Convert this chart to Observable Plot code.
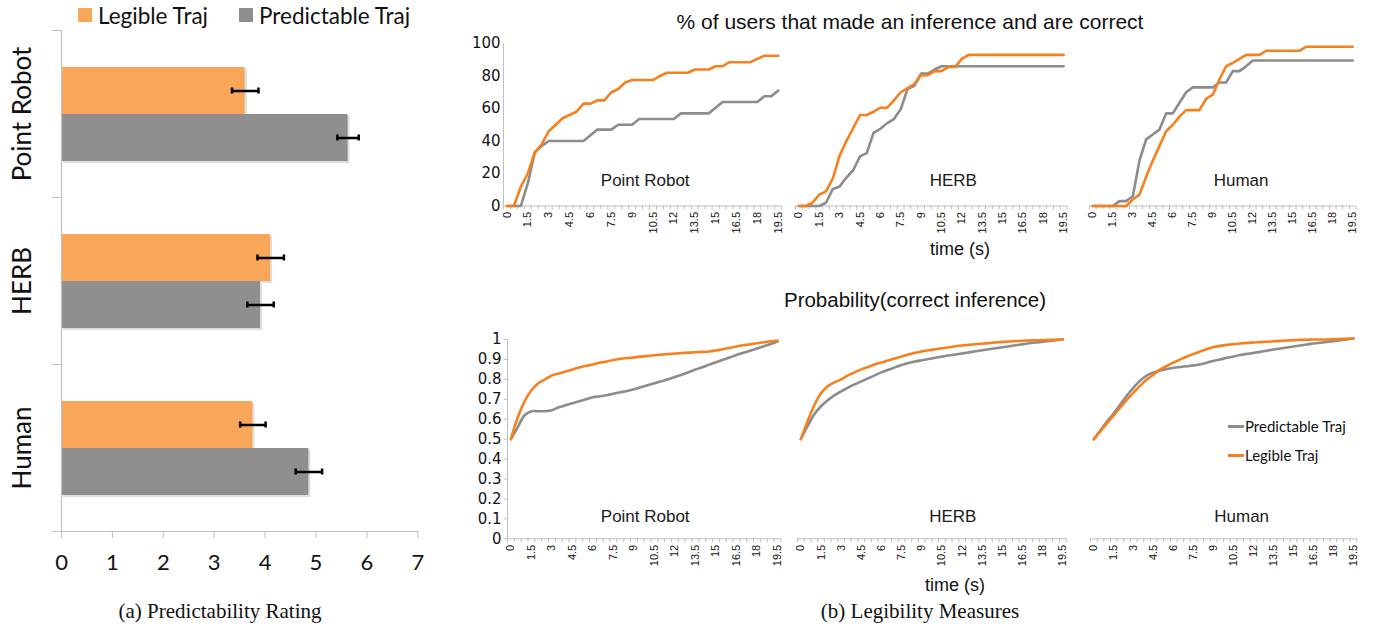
<!DOCTYPE html>
<html><head><meta charset="utf-8">
<script src="https://cdn.jsdelivr.net/npm/d3@7"></script>
<script src="https://cdn.jsdelivr.net/npm/@observablehq/plot@0.6"></script>
<style>
body{margin:0;background:#fff;}
#root{position:relative;width:1375px;height:627px;overflow:hidden;background:#fff;}
.abs{position:absolute;white-space:nowrap;line-height:1;}
</style></head><body><div id="root"></div>
<script>
// ---------- data ----------
const agents = ["Point Robot", "HERB", "Human"];
const trajTypes = ["Legible Traj", "Predictable Traj"];
const ratingLegible = [3.61, 4.11, 3.76];
const ratingPredictable = [5.63, 3.91, 4.86];
const errLegible = [0.26, 0.26, 0.25];
const errPredictable = [0.21, 0.26, 0.26];
const ratingTicks = [0, 1, 2, 3, 4, 5, 6, 7];

const times = [0,0.5,1,1.5,2,2.5,3,3.5,4,4.5,5,5.5,6,6.5,7,7.5,8,8.5,9,9.5,10,10.5,11,11.5,12,12.5,13,13.5,14,14.5,15,15.5,16,16.5,17,17.5,18,18.5,19,19.5];
const timeLabels = [0,1.5,3,4.5,6,7.5,9,10.5,12,13.5,15,16.5,18,19.5];
const pctTicks = [0,20,40,60,80,100];
const probTicks = [0,0.1,0.2,0.3,0.4,0.5,0.6,0.7,0.8,0.9,1];

// % of users that made an inference and are correct
const pctPointRobotLegible = [0,0,12,20,33,38,46,50,54,56,58,63,63,65,65,70,72,76,77.5,77.5,77.5,77.5,80,82,82,82,82,84,84,84,86,86,88.5,88.5,88.5,88.5,90.5,92.5,92.5,92.5];
const pctPointRobotPredictable = [0,0,0,14,33,37,40,40,40,40,40,40,43.5,47,47,47,50,50,50,53.5,53.5,53.5,53.5,53.5,53.5,57,57,57,57,57,60.5,64,64,64,64,64,64,67.5,67.5,71];
const pctHerbLegible = [0,0,2,7,9,17,31,40,48,56,56,58,60.5,60.5,65,70,72.5,75,80.5,80.5,83,83,85.5,85.5,90.5,93,93,93,93,93,93,93,93,93,93,93,93,93,93,93];
const pctHerbPredictable = [0,0,0,0,2,10.5,12,17.5,22,30.5,32.5,45,47.5,51,53.5,59.5,72,74,81.5,81.5,84,86,86,86,86,86,86,86,86,86,86,86,86,86,86,86,86,86,86,86];
const pctHumanLegible = [0,0,0,0,0,0,4,7,18,28,37,46,50,55,59,59,59,66,68.5,78,86,88,90.5,93,93,93,95.5,95.5,95.5,95.5,95.5,95.5,98,98,98,98,98,98,98,98];
const pctHumanPredictable = [0,0,0,0,3,3,6,28,41,44,47,57,57,63.5,70,73,73,73,73,76,76,83,83,86,89.5,89.5,89.5,89.5,89.5,89.5,89.5,89.5,89.5,89.5,89.5,89.5,89.5,89.5,89.5,89.5];

// Probability(correct inference)
const probPointRobotLegible = [0.5,0.61,0.69,0.745,0.78,0.80,0.82,0.83,0.84,0.85,0.86,0.868,0.875,0.883,0.89,0.897,0.903,0.907,0.91,0.914,0.918,0.921,0.924,0.927,0.93,0.932,0.934,0.936,0.938,0.94,0.945,0.951,0.958,0.965,0.971,0.976,0.981,0.986,0.991,0.995];
const probPointRobotPredictable = [0.5,0.56,0.62,0.64,0.64,0.64,0.645,0.66,0.67,0.68,0.69,0.70,0.71,0.715,0.72,0.728,0.735,0.742,0.75,0.76,0.77,0.78,0.79,0.80,0.812,0.823,0.836,0.849,0.861,0.874,0.886,0.898,0.91,0.922,0.933,0.944,0.955,0.966,0.977,0.99];
const probHerbLegible = [0.5,0.59,0.67,0.73,0.765,0.785,0.80,0.82,0.835,0.85,0.862,0.875,0.885,0.895,0.905,0.915,0.925,0.933,0.94,0.946,0.951,0.956,0.961,0.966,0.97,0.973,0.976,0.979,0.982,0.985,0.988,0.99,0.992,0.994,0.995,0.996,0.997,0.998,0.999,1.0];
const probHerbPredictable = [0.5,0.565,0.625,0.665,0.695,0.72,0.74,0.758,0.775,0.79,0.805,0.82,0.835,0.848,0.86,0.872,0.882,0.89,0.896,0.902,0.908,0.914,0.92,0.925,0.93,0.935,0.941,0.946,0.951,0.956,0.961,0.966,0.971,0.976,0.981,0.985,0.989,0.993,0.997,1.0];
const probHumanLegible = [0.5,0.54,0.58,0.62,0.66,0.70,0.735,0.77,0.80,0.825,0.85,0.868,0.885,0.90,0.915,0.928,0.94,0.952,0.962,0.968,0.973,0.977,0.98,0.983,0.985,0.987,0.989,0.991,0.993,0.995,0.997,0.998,0.999,1.0,1.0,1.0,1.002,1.003,1.004,1.005];
const probHumanPredictable = [0.5,0.545,0.59,0.63,0.675,0.72,0.76,0.795,0.82,0.835,0.845,0.852,0.858,0.862,0.866,0.87,0.876,0.884,0.893,0.90,0.908,0.915,0.922,0.928,0.933,0.938,0.944,0.95,0.955,0.96,0.965,0.97,0.975,0.98,0.984,0.988,0.992,0.996,1.0,1.005];

// ---------- styling ----------
const barOrange = "#F8A758", barGray = "#8F8F8F";
const lineOrange = "#F7801E", lineGray = "#8C8C8C";
const axisGray = "#BFBFBF";
const root = document.getElementById("root");

function place(el, left, top) {
  el.style.position = "absolute";
  el.style.left = left + "px";
  el.style.top = top + "px";
  root.appendChild(el);
}
function label(text, cx, cy, css) {
  const d = document.createElement("div");
  d.className = "abs";
  d.textContent = text;
  d.style.cssText += css;
  root.appendChild(d);
  const r = d.getBoundingClientRect();
  d.style.left = (cx - r.width / 2) + "px";
  d.style.top = (cy - r.height / 2) + "px";
  return d;
}

// ---------- (a) bar chart ----------
const barRows = agents.flatMap((a, i) => [
  {agent: a, traj: trajTypes[0], v: ratingLegible[i], e: errLegible[i]},
  {agent: a, traj: trajTypes[1], v: ratingPredictable[i], e: errPredictable[i]}
]);
{
  const L = 61, R = 417.3, T = 29, B = 532.7;
  const mL = 61, mR = 15, mT = 29, mB = 60;
  const W = R - L;
  const svg = Plot.plot({
    width: mL + W + mR, height: mT + (B - T) + mB,
    marginLeft: mL, marginRight: mR, marginTop: mT, marginBottom: mB,
    x: {domain: [0, 7]},
    fy: {domain: agents, padding: 0, axis: null},
    y: {domain: trajTypes, paddingInner: 0, paddingOuter: 0.75, axis: null},
    color: {domain: trajTypes, range: [barOrange, barGray]},
    style: {background: "transparent", overflow: "visible", fontFamily: "Lato"},
    marks: [
      Plot.barX(barRows, {x: "v", y: "traj", fy: "agent", fill: "#000", fillOpacity: 0.13, dx: 2, dy: 2}),
      Plot.barX(barRows, {x: "v", y: "traj", fy: "agent", fill: "traj"}),
      Plot.ruleX([0], {stroke: axisGray, strokeWidth: 1.2}),
      Plot.frame({anchor: "top", stroke: axisGray, insetLeft: -9, insetRight: W}),
      Plot.frame({anchor: "bottom", stroke: axisGray, insetLeft: -9, facetAnchor: "bottom"}),
      Plot.axisX(ratingTicks, {tickSize: 7, stroke: axisGray, tickPadding: 16, fontSize: 22, fontFamily: "Lato", fill: "#111", tickFormat: d => String(d), label: null}),
      Plot.ruleY(barRows, {y: "traj", fy: "agent", x1: d => d.v - d.e, x2: d => d.v + d.e, stroke: "#000", strokeWidth: 2.5}),
      Plot.tickX(barRows, {x: d => d.v - d.e, y: "traj", fy: "agent", stroke: "#000", strokeWidth: 2.5, insetTop: 20.5, insetBottom: 20.5}),
      Plot.tickX(barRows, {x: d => d.v + d.e, y: "traj", fy: "agent", stroke: "#000", strokeWidth: 2.5, insetTop: 20.5, insetBottom: 20.5}),
      Plot.text(agents, {fy: d => d, text: d => d, frameAnchor: "left", textAnchor: "middle", rotate: -90, dx: -39, fontSize: 26, fontFamily: "Lato", fill: "#111"})
    ]
  });
  place(svg, L - mL, T - mT);
}

// legend of (a)
{
  const items = [[trajTypes[0], barOrange, 78, 98], [trajTypes[1], barGray, 239, 259]];
  for (const [name, col, sx, tx] of items) {
    const sq = document.createElement("div");
    sq.className = "abs";
    sq.style.cssText += `left:${sx}px;top:8px;width:14px;height:14px;background:${col};`;
    root.appendChild(sq);
    const t = document.createElement("div");
    t.className = "abs";
    t.textContent = name;
    t.style.cssText += `left:${tx}px;font:22.5px Lato;color:#111;`;
    root.appendChild(t);
    t.style.top = (15 - t.getBoundingClientRect().height / 2) + "px";
  }
}

// ---------- (b) line panels ----------
const boundaryTicks = times.map(t => t - 0.25).concat([19.75]);

function linePanel(p) {
  const mL = 60, mR = 12, mT = 10, mB = 45;
  const rows = [];
  times.forEach((t, i) => rows.push({t, v: p.pred[i], s: "Predictable Traj"}));
  times.forEach((t, i) => rows.push({t, v: p.leg[i], s: "Legible Traj"}));
  const marks = [
    Plot.ruleY([0], {stroke: axisGray, strokeWidth: 1}),
    Plot.axisX(boundaryTicks, {tickSize: 4, stroke: axisGray, tickFormat: () => "", label: null}),
    Plot.axisX(timeLabels, {tickSize: 0, tickPadding: 6, tickRotate: -90, fontSize: 11, fontFamily: "Liberation Sans", fill: "#111", tickFormat: d => String(d), label: null}),
    Plot.line(rows, {x: "t", y: "v", z: "s", stroke: "s", strokeWidth: 2.6, curve: p.curve}),
    Plot.text([p.name], {frameAnchor: "bottom", dx: p.labelDx, dy: p.labelDy, fontSize: 17, fontFamily: "Liberation Sans", fill: "#1a1a1a"})
  ];
  if (p.showY) {
    marks.unshift(
      Plot.ruleX([-0.25], {stroke: axisGray, strokeWidth: 1}),
      Plot.axisY(p.yTicks, {tickSize: p.yTickSize, stroke: axisGray, tickPadding: p.yPad, tickFormat: d => String(d), fontSize: 15, fontFamily: "DejaVu Sans", fill: "#111", label: null})
    );
  }
  const svg = Plot.plot({
    width: mL + (p.right - p.left) + mR, height: mT + (p.bottom - p.top) + mB,
    marginLeft: mL, marginRight: mR, marginTop: mT, marginBottom: mB,
    x: {domain: [-0.25, 19.75]},
    y: {domain: p.yDomain, axis: p.showY ? undefined : null},
    color: {domain: ["Predictable Traj", "Legible Traj"], range: [lineGray, lineOrange]},
    style: {background: "transparent", overflow: "visible", fontFamily: "Liberation Sans"},
    marks
  });
  place(svg, p.left - mL, p.top - mT);
}

const topRow = [
  {name: "Point Robot", leg: pctPointRobotLegible, pred: pctPointRobotPredictable, left: 503.3, right: 781.5, labelDx: 2.6, showY: true},
  {name: "HERB", leg: pctHerbLegible, pred: pctHerbPredictable, left: 794.6, right: 1066.1, labelDx: 22, showY: false},
  {name: "Human", leg: pctHumanLegible, pred: pctHumanPredictable, left: 1089.4, right: 1356, labelDx: 18.3, showY: false}
];
for (const p of topRow) linePanel({...p, top: 42.5, bottom: 205, yDomain: [0, 100], yTicks: pctTicks, yTickSize: 0, yPad: 3, labelDy: -20, curve: "linear"});

const bottomRow = [
  {name: "Point Robot", leg: probPointRobotLegible, pred: probPointRobotPredictable, left: 507.3, right: 780.7, labelDx: 1, showY: true},
  {name: "HERB", leg: probHerbLegible, pred: probHerbPredictable, left: 797.3, right: 1066, labelDx: 21, showY: false},
  {name: "Human", leg: probHumanLegible, pred: probHumanPredictable, left: 1089.7, right: 1356, labelDx: 18, showY: false}
];
for (const p of bottomRow) linePanel({...p, top: 339, bottom: 538.3, yDomain: [0, 1], yTicks: probTicks, yTickSize: 3, yPad: 3, labelDy: -17, curve: "catmull-rom"});

// legend inside bottom Human panel
{
  const items = [["Predictable Traj", lineGray, 426], ["Legible Traj", lineOrange, 455]];
  for (const [name, col, cy] of items) {
    const ln = document.createElement("div");
    ln.className = "abs";
    ln.style.cssText += `left:1228px;top:${cy - 1.5}px;width:16px;height:3px;background:${col};`;
    root.appendChild(ln);
    const t = document.createElement("div");
    t.className = "abs";
    t.textContent = name;
    t.style.cssText += `left:1245px;font:15px Lato;color:#111;`;
    root.appendChild(t);
    t.style.top = (cy - t.getBoundingClientRect().height / 2) + "px";
  }
}

// titles and captions
label("% of users that made an inference and are correct", 910, 22, "font:21px 'Liberation Sans';color:#111;");
label("Probability(correct inference)", 915, 300, "font:20.5px 'Liberation Sans';color:#111;");
label("time (s)", 960, 249, "font:18px 'Liberation Sans';color:#111;");
label("time (s)", 955, 585, "font:18px 'Liberation Sans';color:#111;");
label("(a)  Predictability Rating", 220, 611, "font:21px 'Liberation Serif';color:#111;");
label("(b)  Legibility Measures", 920, 611, "font:21px 'Liberation Serif';color:#111;");
</script>
</body></html>
